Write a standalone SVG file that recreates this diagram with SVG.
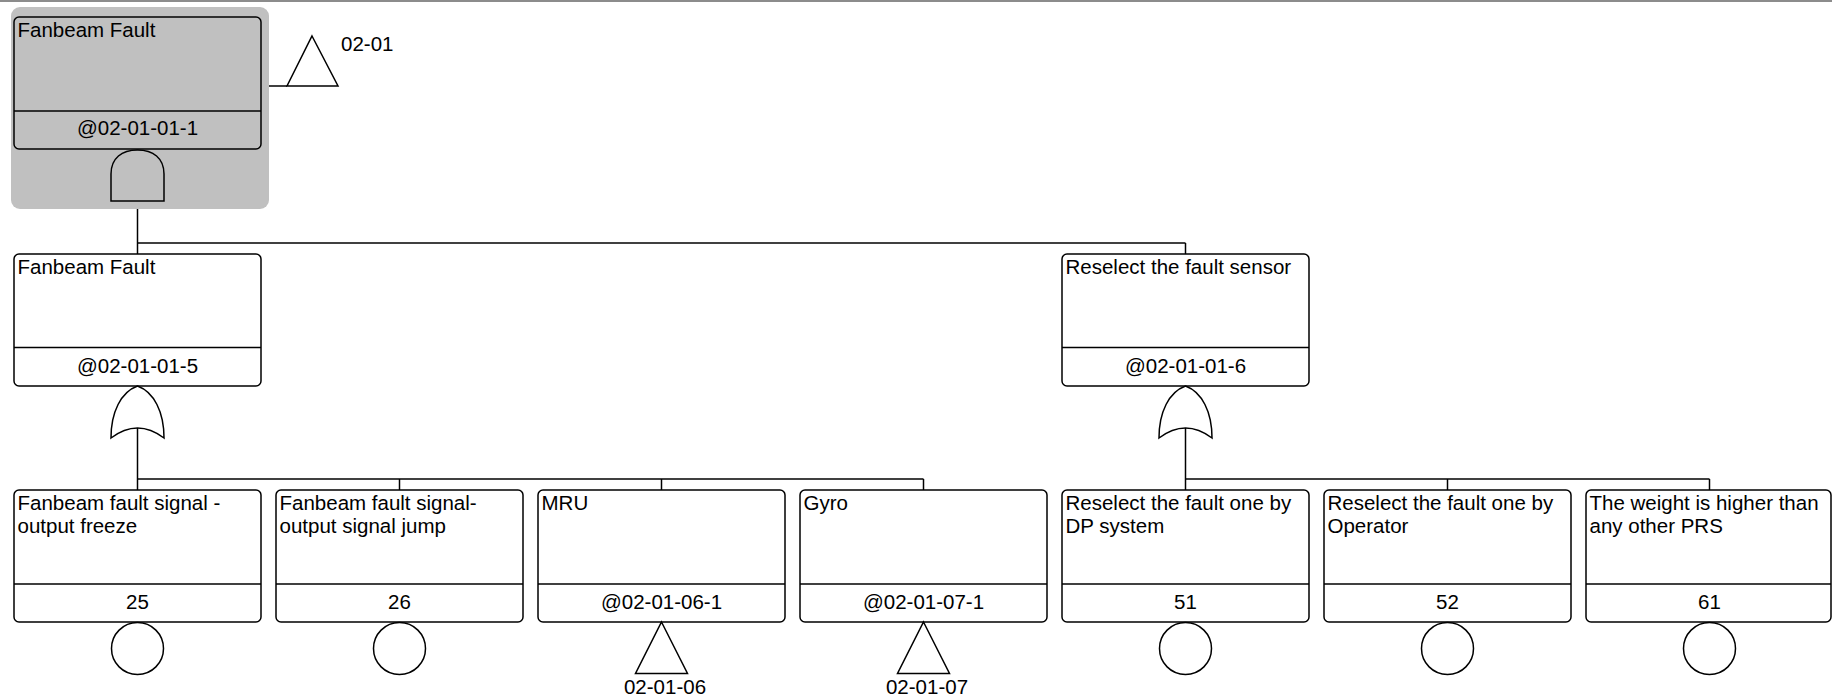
<svg xmlns="http://www.w3.org/2000/svg" width="1832" height="700" viewBox="0 0 1832 700">
<style>
.bx{fill:none;stroke:#000;stroke-width:1.5}
.bxw{fill:#fff;stroke:#000;stroke-width:1.5}
.ln{fill:none;stroke:#000;stroke-width:1.5}
.g{fill:none;stroke:#000;stroke-width:1.5}
text{font-family:"Liberation Sans",Arial,sans-serif;font-size:20.5px;fill:#000}
.c{text-anchor:middle}
</style>
<rect x="0" y="0" width="1832" height="700" fill="#fff"/>
<rect x="0" y="0" width="1832" height="2" fill="#8c8c8c"/>

<g id="connectors">
  <line class="ln" x1="137.5" y1="201" x2="137.5" y2="243"/>
  <line class="ln" x1="137.5" y1="243" x2="1185.5" y2="243"/>
  <line class="ln" x1="137.5" y1="243" x2="137.5" y2="254"/>
  <line class="ln" x1="1185.5" y1="243" x2="1185.5" y2="254"/>
  <line class="ln" x1="262" y1="86" x2="287" y2="86"/>
  <line class="ln" x1="137.5" y1="428" x2="137.5" y2="479"/>
  <line class="ln" x1="137.5" y1="479" x2="923.5" y2="479"/>
  <line class="ln" x1="137.5" y1="479" x2="137.5" y2="490"/>
  <line class="ln" x1="399.5" y1="479" x2="399.5" y2="490"/>
  <line class="ln" x1="661.5" y1="479" x2="661.5" y2="490"/>
  <line class="ln" x1="923.5" y1="479" x2="923.5" y2="490"/>
  <line class="ln" x1="1185.5" y1="428" x2="1185.5" y2="479"/>
  <line class="ln" x1="1185.5" y1="479" x2="1709.5" y2="479"/>
  <line class="ln" x1="1185.5" y1="479" x2="1185.5" y2="490"/>
  <line class="ln" x1="1447.5" y1="479" x2="1447.5" y2="490"/>
  <line class="ln" x1="1709.5" y1="479" x2="1709.5" y2="490"/>
</g>

<g id="n-top">
  <rect x="11" y="7" width="258" height="202" rx="9" fill="#c0c0c0"/>
  <rect class="bx" x="14" y="17" width="247" height="132" rx="5"/>
  <line class="ln" x1="14" y1="111" x2="261" y2="111"/>
  <text x="17.5" y="36.5">Fanbeam Fault</text>
  <text class="c" x="137.5" y="135">@02-01-01-1</text>
  <path class="g" d="M111,201 V174 C111,158 122,150 137.5,150 C153,150 164,158 164,174 V201 Z"/>
  <path class="g" d="M312,36 L338,86 L287,86 Z"/>
  <text x="341" y="50.5">02-01</text>
</g>

<g id="n-l2a">
  <rect class="bxw" x="14" y="254" width="247" height="132" rx="5"/>
  <line class="ln" x1="14" y1="347.5" x2="261" y2="347.5"/>
  <text x="17.5" y="273.5">Fanbeam Fault</text>
  <text class="c" x="137.5" y="372.5">@02-01-01-5</text>
  <path class="g" d="M111,438 C111,412 121,392 137.5,386 C154,392 164,412 164,438 Q137.5,418 111,438 Z"/>
</g>

<g id="n-l2b">
  <rect class="bxw" x="1062" y="254" width="247" height="132" rx="5"/>
  <line class="ln" x1="1062" y1="347.5" x2="1309" y2="347.5"/>
  <text x="1065.5" y="273.5">Reselect the fault sensor</text>
  <text class="c" x="1185.5" y="372.5">@02-01-01-6</text>
  <path class="g" d="M1159,438 C1159,412 1169,392 1185.5,386 C1202,392 1212,412 1212,438 Q1185.5,418 1159,438 Z"/>
</g>

<g id="n-25">
  <rect class="bxw" x="14" y="490" width="247" height="132" rx="5"/>
  <line class="ln" x1="14" y1="584" x2="261" y2="584"/>
  <text x="17.5" y="509.5">Fanbeam fault signal -</text>
  <text x="17.5" y="532.5">output freeze</text>
  <text class="c" x="137.5" y="608.5">25</text>
  <circle class="g" cx="137.5" cy="648.5" r="26"/>
</g>

<g id="n-26">
  <rect class="bxw" x="276" y="490" width="247" height="132" rx="5"/>
  <line class="ln" x1="276" y1="584" x2="523" y2="584"/>
  <text x="279.5" y="509.5">Fanbeam fault signal-</text>
  <text x="279.5" y="532.5">output signal jump</text>
  <text class="c" x="399.5" y="608.5">26</text>
  <circle class="g" cx="399.5" cy="648.5" r="26"/>
</g>

<g id="n-mru">
  <rect class="bxw" x="538" y="490" width="247" height="132" rx="5"/>
  <line class="ln" x1="538" y1="584" x2="785" y2="584"/>
  <text x="541.5" y="509.5">MRU</text>
  <text class="c" x="661.5" y="608.5">@02-01-06-1</text>
  <path class="g" d="M661.5,622 L687.5,673.5 L635.5,673.5 Z"/>
  <text class="c" x="665" y="693.5">02-01-06</text>
</g>

<g id="n-gyro">
  <rect class="bxw" x="800" y="490" width="247" height="132" rx="5"/>
  <line class="ln" x1="800" y1="584" x2="1047" y2="584"/>
  <text x="803.5" y="509.5">Gyro</text>
  <text class="c" x="923.5" y="608.5">@02-01-07-1</text>
  <path class="g" d="M923.5,622 L949.5,673.5 L897.5,673.5 Z"/>
  <text class="c" x="927" y="693.5">02-01-07</text>
</g>

<g id="n-51">
  <rect class="bxw" x="1062" y="490" width="247" height="132" rx="5"/>
  <line class="ln" x1="1062" y1="584" x2="1309" y2="584"/>
  <text x="1065.5" y="509.5">Reselect the fault one by</text>
  <text x="1065.5" y="532.5">DP system</text>
  <text class="c" x="1185.5" y="608.5">51</text>
  <circle class="g" cx="1185.5" cy="648.5" r="26"/>
</g>

<g id="n-52">
  <rect class="bxw" x="1324" y="490" width="247" height="132" rx="5"/>
  <line class="ln" x1="1324" y1="584" x2="1571" y2="584"/>
  <text x="1327.5" y="509.5">Reselect the fault one by</text>
  <text x="1327.5" y="532.5">Operator</text>
  <text class="c" x="1447.5" y="608.5">52</text>
  <circle class="g" cx="1447.5" cy="648.5" r="26"/>
</g>

<g id="n-61">
  <rect class="bxw" x="1586" y="490" width="245" height="132" rx="5"/>
  <line class="ln" x1="1586" y1="584" x2="1831" y2="584"/>
  <text x="1589.5" y="509.5">The weight is higher than</text>
  <text x="1589.5" y="532.5">any other PRS</text>
  <text class="c" x="1709.5" y="608.5">61</text>
  <circle class="g" cx="1709.5" cy="648.5" r="26"/>
</g>
</svg>
